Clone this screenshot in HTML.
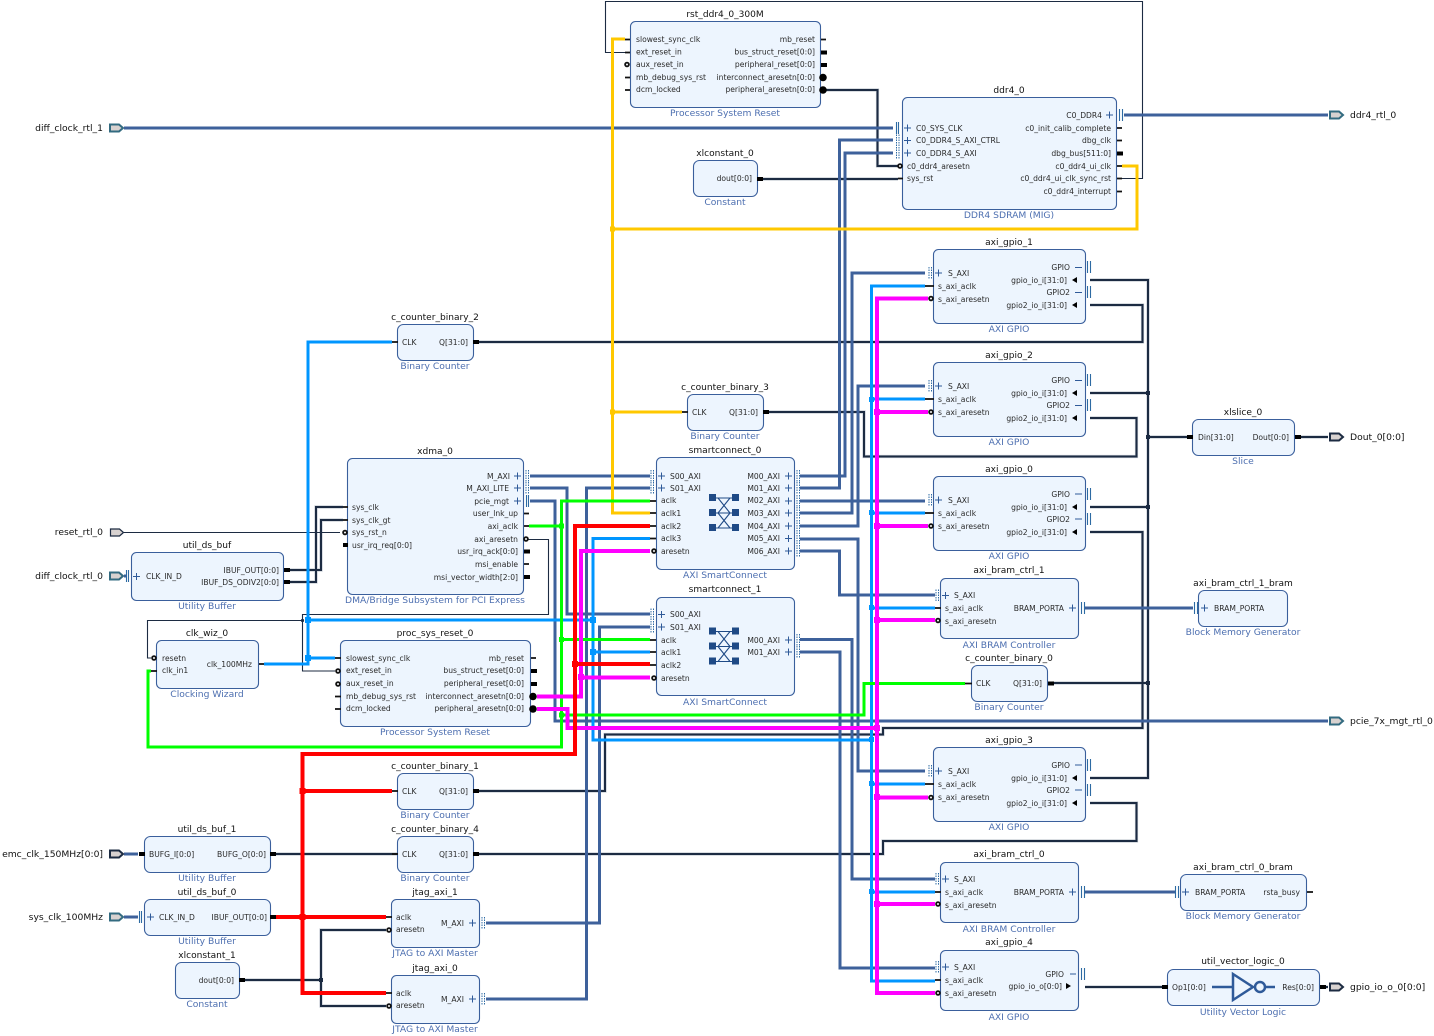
<!DOCTYPE html>
<html><head><meta charset="utf-8"><style>
html,body{margin:0;padding:0;background:#fff}
svg{display:block}
text{font-family:"DejaVu Sans","Liberation Sans",sans-serif;font-size:7.6px;fill:#2a2a2a}
.t{font-size:9.05px;fill:#111;text-anchor:middle}
.s{font-size:9.2px;fill:#4d6fb0;text-anchor:middle}
.e{text-anchor:end}
.x{font-size:9.2px;fill:#111}
.xe{font-size:9.2px;fill:#111;text-anchor:end}
.b{fill:#edf5fe;stroke:#3a5f9c;stroke-width:1.1}
path{fill:none}
.w{stroke:#1c2b42;stroke-width:2}
.h{stroke:#c3c9d1;stroke-width:3.2}
.th{stroke:#1c2b42;stroke-width:1.1}
.bl{stroke:#3e619b;stroke-width:3}
.ye{stroke:#ffc800;stroke-width:3}
.gr{stroke:#00ff00;stroke-width:3}
.re{stroke:#ff0000;stroke-width:4}
.ma{stroke:#ff00ff;stroke-width:4}
.cy{stroke:#0096ff;stroke-width:3}
.st{stroke:#111;stroke-width:1.8}
.bs{stroke:#000;stroke-width:4}
.pl{stroke:#2f5a99;stroke-width:1}
.db{stroke:#2d6aa3;stroke-width:1.1}
.dt{stroke:#2d6aa3;stroke-width:1;stroke-dasharray:1.5 1}
.inv{fill:#fff;stroke:#111;stroke-width:1.8}
.ext{fill:#d8d2d0;stroke:#1c2b42;stroke-width:1.2}
.extb{fill:#d8d2d0;stroke:#336b80;stroke-width:2}
.extd{fill:#d8d2d0;stroke:#1c2b42;stroke-width:2}
.j1{fill:#1c2b42}.j2{fill:#0096ff}.j3{fill:#ff00ff}.j4{fill:#ff0000}.j5{fill:#00ff00}.j6{fill:#ffc800}
.ic{fill:#1f4a86}
.il{stroke:#1f4a86;stroke-width:1.1}
.ig{fill:none;stroke:#2f5a99;stroke-width:2.5}
</style></head><body>
<svg width="1434" height="1036" viewBox="0 0 1434 1036" xmlns="http://www.w3.org/2000/svg">

<!-- dark wire halo -->
<path class="h" d="M826 90H877.5V166H898M763 179H898M1090 280H1148V778H1090M1090 393H1148M1090 507H1148M1052 683H1148M1148 437H1187M1300 437H1328M478 342H1142.500V305H1090M768 412H864V456.500H1136.500V418H1090M1090 532H1142.500V728H883V734.500H605V791H478M1090 803H1136.500V841H883V854H275M287 570H321V520H343M287 582H316V507H343M245 980H321M386 930H321V1006H386M1085 987H1162M1325 987H1328"/>
<!-- dark wires -->
<path class="w" d="M826 90H877.5V166H898M763 179H898M1090 280H1148V778H1090M1090 393H1148M1090 507H1148M1052 683H1148M1148 437H1187M1300 437H1328M478 342H1142.500V305H1090M768 412H864V456.500H1136.500V418H1090M1090 532H1142.500V728H883V734.500H605V791H478M1090 803H1136.500V841H883V854H275M287 570H321V520H343M287 582H316V507H343M245 980H321M386 930H321V1006H386M1085 987H1162M1325 987H1328"/>
<!-- thin wires -->
<path class="th" d="M1122 178.500H1142.500V1.500H605.500V52.500H625M124 532.500H340M528 539.500H548.500V614.500H302.500V671H335M302.500 620.500H147.500V658H151"/>
<!-- blue buses -->
<path class="bl" d="M124 128H893M1124 115H1328M530 476H650M530 488H567V614H650M530 501H555V721H1328M486 999H586.500V488H650M486 923H599.500V627H650M800 476H845V153H893M800 488H839.500V140H893M800 501H925M800 513H852V273H925M800 526H858V386H925M800 539H858V771H925M800 551H839.500V595H935M800 639.500H852V879H935M800 652H840V968H935M1084 608H1193M1084 892H1175M124 576H126M124 854H138M124 917H138"/>
<!-- yellow -->
<path class="ye" d="M625 39H612.500V513H650M1122 166H1137V229H612.500M682 412H612.500"/>
<!-- bright blue -->
<path class="cy" d="M264 664H308V342H392M308 658H335M308 620H593M650 538.500H593V740H871.500M593 652H650M925 286H871.500V981H935M871.500 399H925M871.500 513H925M871.500 608H935M871.500 784H925M871.500 892H935"/>
<!-- green -->
<path class="gr" d="M529 526H561.500M650 501H561.500V747H148V671H151M561.500 639.500H650M561.500 715H864V683.500H965"/>
<!-- magenta -->
<path class="ma" d="M537 696.500H581V551H650M581 677.500H650M537 709H567.500V728H877M928 298.500H877V993H935M877 412H928M877 526H928M877 620H935M877 797.500H928M877 904H935"/>
<!-- red -->
<path class="re" d="M650 526H575V754H302.500V993H386M575 664H650M302.500 791H392M275 917H386"/>

<!-- junctions -->
<g class="j1"><rect x="1146" y="391" width="4" height="4"/><rect x="1146" y="435" width="4" height="4"/><rect x="1146" y="505" width="4" height="4"/><rect x="1146" y="681" width="4" height="4"/><rect x="319" y="978" width="4" height="4"/><circle cx="302.500" cy="620.500" r="1.600"/></g>
<g class="j2"><rect x="305" y="617" width="6" height="6"/><rect x="305" y="655" width="6" height="6"/><rect x="590" y="617" width="6" height="6"/><rect x="590" y="649" width="6" height="6"/><rect x="869" y="397" width="5" height="5"/><rect x="869" y="510" width="5" height="5"/><rect x="869" y="605" width="5" height="5"/><rect x="869" y="737" width="5" height="5"/><rect x="869" y="781" width="5" height="5"/><rect x="869" y="889" width="5" height="5"/></g>
<g class="j3"><rect x="874" y="409" width="6" height="6"/><rect x="874" y="523" width="6" height="6"/><rect x="874" y="617" width="6" height="6"/><rect x="874" y="725" width="6" height="6"/><rect x="874" y="794" width="6" height="6"/><rect x="874" y="901" width="6" height="6"/><rect x="578" y="674" width="6" height="6"/></g>
<g class="j4"><rect x="299.500" y="788" width="6" height="6"/><rect x="299.500" y="914" width="6" height="6"/><rect x="572" y="661" width="6" height="6"/></g>
<g class="j5"><rect x="559" y="523.500" width="5" height="5"/><rect x="559" y="637" width="5" height="5"/><rect x="559" y="712.500" width="5" height="5"/></g>
<g class="j6"><rect x="610" y="226.500" width="5" height="5"/><rect x="610" y="409.500" width="5" height="5"/></g>

<!-- blocks -->
<rect class="b" x="630.500" y="21.500" width="190" height="86" rx="5"/>
<rect class="b" x="902.500" y="97.500" width="214" height="112" rx="5"/>
<rect class="b" x="693.500" y="160.500" width="64" height="36" rx="6"/>
<rect class="b" x="933.500" y="249.500" width="152" height="74" rx="5"/>
<rect class="b" x="933.500" y="362.500" width="152" height="74" rx="5"/>
<rect class="b" x="933.500" y="476.500" width="152" height="74" rx="5"/>
<rect class="b" x="940.500" y="578.500" width="138" height="60" rx="5"/>
<rect class="b" x="397.500" y="324.500" width="76" height="36" rx="6"/>
<rect class="b" x="687.500" y="394.500" width="76" height="36" rx="6"/>
<rect class="b" x="1192.500" y="419.500" width="102" height="36" rx="6"/>
<rect class="b" x="347.500" y="458.500" width="176" height="136" rx="5"/>
<rect class="b" x="656.500" y="457.500" width="138" height="112" rx="5"/>
<rect class="b" x="656.500" y="597.500" width="138" height="98" rx="5"/>
<rect class="b" x="340.500" y="640.500" width="190" height="86" rx="5"/>
<rect class="b" x="131.500" y="552.500" width="152" height="48" rx="5"/>
<rect class="b" x="156.500" y="640.500" width="102" height="48" rx="5"/>
<rect class="b" x="1198.500" y="590.500" width="89" height="36" rx="6"/>
<rect class="b" x="971.500" y="665.500" width="76" height="36" rx="6"/>
<rect class="b" x="933.500" y="747.500" width="152" height="74" rx="5"/>
<rect class="b" x="940.500" y="862.500" width="138" height="60" rx="5"/>
<rect class="b" x="940.500" y="950.500" width="138" height="60" rx="5"/>
<rect class="b" x="1180.500" y="874.500" width="126" height="36" rx="6"/>
<rect class="b" x="1167.500" y="969.500" width="152" height="36" rx="6"/>
<rect class="b" x="397.500" y="773.500" width="76" height="36" rx="6"/>
<rect class="b" x="397.500" y="836.500" width="76" height="36" rx="6"/>
<rect class="b" x="391.500" y="899.500" width="88" height="48" rx="5"/>
<rect class="b" x="391.500" y="975.500" width="88" height="48" rx="5"/>
<rect class="b" x="144.500" y="836.500" width="126" height="36" rx="6"/>
<rect class="b" x="144.500" y="899.500" width="126" height="36" rx="6"/>
<rect class="b" x="175.500" y="962.500" width="64" height="36" rx="6"/>

<!-- stubs -->
<path class="st" d="M625 39.500h5M625 52.500h5M625 77.500h5M625 90h5M821 39.500h5M1117 128h5M1117 140.500h5M1117 166h5M1117 178.500h5M1117 191.500h5M898 178.500h5M343 507h5M343 520h5M524 513.500h5M524 526h5M524 564h5M650 501h6M650 513h6M650 526h6M650 538.500h6M650 640h6M650 652h6M650 665h6M335 658h6M335 696.500h6M335 709h6M531 658h5M151 671h6M259 664h5M392 342h6M682 412h6M392 791h6M392 854h6M965 683.500h7M925 286h9M925 399h9M925 513h9M925 784h9M935 608h6M935 892h6M935 980h6M386 917h6M386 993h6M1307 892h6"/>
<path class="bs" d="M821 52.500h6M821 65h6M1117 153.500h6M343 545h5M524 551.500h6M524 577h6M531 671h6M531 684h6M284 570h6M284 582h6M473 342h6M763 412h6M473 791h6M473 854h6M1048 683.500h6M1187 437h6M1295 437h6M270 854h6M139 854h6M270 917h6M239 980h6M757 179h6M1162 987h6M1320 987h6"/>
<!-- inverted / large circles -->
<g class="inv"><circle cx="627" cy="64.500" r="1.900"/><circle cx="900" cy="166" r="1.900"/><circle cx="345" cy="532.500" r="1.900"/><circle cx="526" cy="539" r="1.900"/><circle cx="654" cy="551" r="1.900"/><circle cx="654" cy="678" r="1.900"/><circle cx="338" cy="671" r="1.900"/><circle cx="338" cy="684" r="1.900"/><circle cx="154" cy="658" r="1.900"/><circle cx="931" cy="298.500" r="1.900"/><circle cx="931" cy="412" r="1.900"/><circle cx="931" cy="526" r="1.900"/><circle cx="938" cy="620.500" r="1.900"/><circle cx="931" cy="797.500" r="1.900"/><circle cx="938" cy="904" r="1.900"/><circle cx="938" cy="993" r="1.900"/><circle cx="389" cy="930" r="1.900"/><circle cx="389" cy="1006" r="1.900"/></g>
<g fill="#000"><circle cx="823" cy="77.500" r="3.800"/><circle cx="823" cy="90" r="3.800"/><circle cx="533" cy="696.500" r="3.800"/><circle cx="533" cy="709" r="3.800"/></g>

<!-- plus signs -->
<path class="pl" d="M904 128h7M907.500 124.500v7M904 140.500h7M907.500 137v7M904 153h7M907.500 149.500v7M1106 115h7M1109.500 111.500v7M658 476h7M661.500 472.500v7M658 488h7M661.500 484.500v7M658 614.500h7M661.500 611v7M658 627h7M661.500 623.500v7M785 476h7M788.500 472.500v7M785 488h7M788.500 484.500v7M785 501h7M788.500 497.500v7M785 513h7M788.500 509.500v7M785 526h7M788.500 522.500v7M785 538.500h7M788.500 535v7M785 551h7M788.500 547.500v7M785 640h7M788.500 636.500v7M785 652h7M788.500 648.500v7M514 476h7M517.500 472.500v7M514 488h7M517.500 484.500v7M514 501h7M517.500 497.500v7M133 576.500h7M136.500 573v7M935 273h7M938.500 269.500v7M935 386h7M938.500 382.500v7M935 500h7M938.500 496.500v7M942 595.500h7M945.500 592v7M1069 608h7M1072.500 604.500v7M935 771h7M938.500 767.500v7M942 879h7M945.500 875.500v7M1069 892h7M1072.500 888.500v7M942 967h7M945.500 963.500v7M1201 608h7M1204.500 604.500v7M1182 892h7M1185.500 888.500v7M147 917h7M150.500 913.500v7M469 923h7M472.500 919.500v7M469 999h7M472.500 995.500v7"/>
<!-- dashes near GPIO -->
<path class="pl" d="M1075 267.500h7M1075 292.500h7M1075 380.500h7M1075 405.500h7M1075 494h7M1075 519h7M1075 765h7M1075 790h7M1070 974h6"/>
<!-- double bars -->
<path class="db" d="M896.500 122v12M898.500 122v12M1119.500 109v12M1122.500 109v12M526.500 495v12M528.500 495v12M126.500 570v12M128.500 570v12M1087.500 261v12M1090.500 261v12M1087.500 286v12M1090.500 286v12M1087.500 374v12M1090.500 374v12M1087.500 399v12M1090.500 399v12M1087.500 488v12M1090.500 488v12M1087.500 513v12M1090.500 513v12M1081.500 602v12M1084.500 602v12M1087.500 759v12M1090.500 759v12M1087.500 784v12M1090.500 784v12M1081.500 886v12M1084.500 886v12M1081.500 968v12M1084.500 968v12M1194.500 602v12M1197.500 602v12M1175.500 886v12M1178.500 886v12M139.500 911v12M141.500 911v12"/>
<!-- dotted interface -->
<path class="dt" d="M896.500 134.500v12M899 134.500v12M896.500 147v12M899 147v12M651 470v12M653.500 470v12M651 482v12M653.500 482v12M651 608.500v12M653.500 608.500v12M651 621v12M653.500 621v12M797 470v12M799.500 470v12M797 482v12M799.500 482v12M797 495v12M799.500 495v12M797 507v12M799.500 507v12M797 520v12M799.500 520v12M797 532.500v12M799.500 532.500v12M797 545v12M799.500 545v12M797 634v12M799.500 634v12M797 646v12M799.500 646v12M526 470v12M528.500 470v12M526 482v12M528.500 482v12M929 267v12M931.500 267v12M929 380v12M931.500 380v12M929 494v12M931.500 494v12M936 589.500v12M938.500 589.500v12M929 765v12M931.500 765v12M936 873v12M938.500 873v12M936 961v12M938.500 961v12M482 917v12M484.500 917v12M482 993v12M484.500 993v12"/>
<!-- arrows -->
<path style="fill:#000" d="M1077 277l-5 3 5 3zM1077 302l-5 3 5 3zM1077 390l-5 3 5 3zM1077 415l-5 3 5 3zM1077 504l-5 3 5 3zM1077 529l-5 3 5 3zM1077 775l-5 3 5 3zM1077 800l-5 3 5 3zM1066 983l5 3-5 3z"/>

<!-- external ports -->
<path class="extb" d="M110 124.500h9l4 3.500-4 3.500h-9z"/>
<path class="extb" d="M1330 111.500h9l4 3.500-4 3.500h-9z"/>
<path class="ext" d="M110.500 529h9l4 3.500-4 3.500h-9z"/>
<path class="extb" d="M110 572.500h9l4 3.500-4 3.500h-9z"/>
<path class="extd" d="M1330 433.500h9l4 3.500-4 3.500h-9z"/>
<path class="extb" d="M1330 717.500h9l4 3.500-4 3.500h-9z"/>
<path class="extd" d="M110 850.500h9l4 3.500-4 3.500h-9z"/>
<path class="extb" d="M110 913.500h9l4 3.500-4 3.500h-9z"/>
<path class="extd" d="M1330 983.500h9l4 3.500-4 3.500h-9z"/>
<text class="xe" x="103" y="131">diff_clock_rtl_1</text>
<text class="xe" x="103" y="535">reset_rtl_0</text>
<text class="xe" x="103" y="579">diff_clock_rtl_0</text>
<text class="xe" x="103" y="857">emc_clk_150MHz[0:0]</text>
<text class="xe" x="103" y="920">sys_clk_100MHz</text>
<text class="x" x="1350" y="118">ddr4_rtl_0</text>
<text class="x" x="1350" y="440">Dout_0[0:0]</text>
<text class="x" x="1350" y="724">pcie_7x_mgt_rtl_0</text>
<text class="x" x="1350" y="990">gpio_io_o_0[0:0]</text>

<!-- titles -->
<text class="t" x="725" y="17">rst_ddr4_0_300M</text><text class="s" x="725" y="116">Processor System Reset</text>
<text class="t" x="1009" y="93">ddr4_0</text><text class="s" x="1009" y="218">DDR4 SDRAM (MIG)</text>
<text class="t" x="725" y="156">xlconstant_0</text><text class="s" x="725" y="205">Constant</text>
<text class="t" x="1009" y="245">axi_gpio_1</text><text class="s" x="1009" y="332">AXI GPIO</text>
<text class="t" x="1009" y="358">axi_gpio_2</text><text class="s" x="1009" y="445">AXI GPIO</text>
<text class="t" x="1009" y="472">axi_gpio_0</text><text class="s" x="1009" y="559">AXI GPIO</text>
<text class="t" x="1009" y="573">axi_bram_ctrl_1</text><text class="s" x="1009" y="648">AXI BRAM Controller</text>
<text class="t" x="435" y="320">c_counter_binary_2</text><text class="s" x="435" y="369">Binary Counter</text>
<text class="t" x="725" y="390">c_counter_binary_3</text><text class="s" x="725" y="439">Binary Counter</text>
<text class="t" x="1243" y="415">xlslice_0</text><text class="s" x="1243" y="464">Slice</text>
<text class="t" x="435" y="454">xdma_0</text><text class="s" x="435" y="603">DMA/Bridge Subsystem for PCI Express</text>
<text class="t" x="725" y="453">smartconnect_0</text><text class="s" x="725" y="578">AXI SmartConnect</text>
<text class="t" x="725" y="592">smartconnect_1</text><text class="s" x="725" y="705">AXI SmartConnect</text>
<text class="t" x="435" y="636">proc_sys_reset_0</text><text class="s" x="435" y="735">Processor System Reset</text>
<text class="t" x="207" y="548">util_ds_buf</text><text class="s" x="207" y="609">Utility Buffer</text>
<text class="t" x="207" y="636">clk_wiz_0</text><text class="s" x="207" y="697">Clocking Wizard</text>
<text class="t" x="1243" y="586">axi_bram_ctrl_1_bram</text><text class="s" x="1243" y="635">Block Memory Generator</text>
<text class="t" x="1009" y="661">c_counter_binary_0</text><text class="s" x="1009" y="710">Binary Counter</text>
<text class="t" x="1009" y="743">axi_gpio_3</text><text class="s" x="1009" y="830">AXI GPIO</text>
<text class="t" x="1009" y="857">axi_bram_ctrl_0</text><text class="s" x="1009" y="932">AXI BRAM Controller</text>
<text class="t" x="1009" y="945">axi_gpio_4</text><text class="s" x="1009" y="1020">AXI GPIO</text>
<text class="t" x="1243" y="870">axi_bram_ctrl_0_bram</text><text class="s" x="1243" y="919">Block Memory Generator</text>
<text class="t" x="1243" y="964">util_vector_logic_0</text><text class="s" x="1243" y="1015">Utility Vector Logic</text>
<text class="t" x="435" y="769">c_counter_binary_1</text><text class="s" x="435" y="818">Binary Counter</text>
<text class="t" x="435" y="832">c_counter_binary_4</text><text class="s" x="435" y="881">Binary Counter</text>
<text class="t" x="435" y="895">jtag_axi_1</text><text class="s" x="435" y="956">JTAG to AXI Master</text>
<text class="t" x="435" y="971">jtag_axi_0</text><text class="s" x="435" y="1032">JTAG to AXI Master</text>
<text class="t" x="207" y="832">util_ds_buf_1</text><text class="s" x="207" y="881">Utility Buffer</text>
<text class="t" x="207" y="895">util_ds_buf_0</text><text class="s" x="207" y="944">Utility Buffer</text>
<text class="t" x="207" y="958">xlconstant_1</text><text class="s" x="207" y="1007">Constant</text>

<!-- port labels -->
<g>
<text x="636" y="42">slowest_sync_clk</text><text x="636" y="54.500">ext_reset_in</text><text x="636" y="67">aux_reset_in</text><text x="636" y="80">mb_debug_sys_rst</text><text x="636" y="92">dcm_locked</text>
<text class="e" x="815" y="42">mb_reset</text><text class="e" x="815" y="54.500">bus_struct_reset[0:0]</text><text class="e" x="815" y="67">peripheral_reset[0:0]</text><text class="e" x="815" y="80">interconnect_aresetn[0:0]</text><text class="e" x="815" y="92">peripheral_aresetn[0:0]</text>

<text x="916" y="131">C0_SYS_CLK</text><text x="916" y="143">C0_DDR4_S_AXI_CTRL</text><text x="916" y="156">C0_DDR4_S_AXI</text><text x="907" y="169">c0_ddr4_aresetn</text><text x="907" y="181">sys_rst</text>
<text class="e" x="1102" y="118">C0_DDR4</text><text class="e" x="1111" y="131">c0_init_calib_complete</text><text class="e" x="1111" y="143">dbg_clk</text><text class="e" x="1111" y="156">dbg_bus[511:0]</text><text class="e" x="1111" y="169">c0_ddr4_ui_clk</text><text class="e" x="1111" y="181">c0_ddr4_ui_clk_sync_rst</text><text class="e" x="1111" y="194">c0_ddr4_interrupt</text>

<text class="e" x="752" y="181">dout[0:0]</text>
<text class="e" x="234" y="983">dout[0:0]</text>

<text x="402" y="345">CLK</text><text class="e" x="468" y="345">Q[31:0]</text>
<text x="692" y="415">CLK</text><text class="e" x="758" y="415">Q[31:0]</text>
<text x="976" y="686">CLK</text><text class="e" x="1042" y="686">Q[31:0]</text>
<text x="402" y="794">CLK</text><text class="e" x="468" y="794">Q[31:0]</text>
<text x="402" y="857">CLK</text><text class="e" x="468" y="857">Q[31:0]</text>

<text x="948" y="276">S_AXI</text><text x="938" y="289">s_axi_aclk</text><text x="938" y="302">s_axi_aresetn</text>
<text class="e" x="1070" y="270">GPIO</text><text class="e" x="1067" y="283">gpio_io_i[31:0]</text><text class="e" x="1070" y="295">GPIO2</text><text class="e" x="1067" y="308">gpio2_io_i[31:0]</text>
<text x="948" y="389">S_AXI</text><text x="938" y="402">s_axi_aclk</text><text x="938" y="415">s_axi_aresetn</text>
<text class="e" x="1070" y="383">GPIO</text><text class="e" x="1067" y="396">gpio_io_i[31:0]</text><text class="e" x="1070" y="408">GPIO2</text><text class="e" x="1067" y="421">gpio2_io_i[31:0]</text>
<text x="948" y="503">S_AXI</text><text x="938" y="516">s_axi_aclk</text><text x="938" y="529">s_axi_aresetn</text>
<text class="e" x="1070" y="497">GPIO</text><text class="e" x="1067" y="510">gpio_io_i[31:0]</text><text class="e" x="1070" y="522">GPIO2</text><text class="e" x="1067" y="535">gpio2_io_i[31:0]</text>
<text x="948" y="774">S_AXI</text><text x="938" y="787">s_axi_aclk</text><text x="938" y="800">s_axi_aresetn</text>
<text class="e" x="1070" y="768">GPIO</text><text class="e" x="1067" y="781">gpio_io_i[31:0]</text><text class="e" x="1070" y="793">GPIO2</text><text class="e" x="1067" y="806">gpio2_io_i[31:0]</text>

<text x="954" y="598">S_AXI</text><text x="945" y="611">s_axi_aclk</text><text x="945" y="624">s_axi_aresetn</text><text class="e" x="1064" y="611">BRAM_PORTA</text>
<text x="954" y="882">S_AXI</text><text x="945" y="895">s_axi_aclk</text><text x="945" y="908">s_axi_aresetn</text><text class="e" x="1064" y="895">BRAM_PORTA</text>
<text x="954" y="970">S_AXI</text><text x="945" y="983">s_axi_aclk</text><text x="945" y="996">s_axi_aresetn</text><text class="e" x="1064" y="977">GPIO</text><text class="e" x="1062" y="989">gpio_io_o[0:0]</text>

<text x="1214" y="611">BRAM_PORTA</text>
<text x="1195" y="895">BRAM_PORTA</text><text class="e" x="1300" y="895">rsta_busy</text>
<text x="1198" y="440">Din[31:0]</text><text class="e" x="1289" y="440">Dout[0:0]</text>
<text x="1172" y="990">Op1[0:0]</text><text class="e" x="1314" y="990">Res[0:0]</text>

<text class="e" x="510" y="479">M_AXI</text><text class="e" x="509" y="491">M_AXI_LITE</text><text class="e" x="509" y="504">pcie_mgt</text><text class="e" x="518" y="516">user_lnk_up</text><text class="e" x="518" y="529">axi_aclk</text><text class="e" x="518" y="542">axi_aresetn</text><text class="e" x="518" y="554">usr_irq_ack[0:0]</text><text class="e" x="518" y="567">msi_enable</text><text class="e" x="518" y="580">msi_vector_width[2:0]</text>
<text x="352" y="510">sys_clk</text><text x="352" y="523">sys_clk_gt</text><text x="352" y="535">sys_rst_n</text><text x="352" y="548">usr_irq_req[0:0]</text>

<text x="670" y="479">S00_AXI</text><text x="670" y="491">S01_AXI</text><text x="661" y="503">aclk</text><text x="661" y="516">aclk1</text><text x="661" y="529">aclk2</text><text x="661" y="541">aclk3</text><text x="661" y="554">aresetn</text>
<text class="e" x="780" y="479">M00_AXI</text><text class="e" x="780" y="491">M01_AXI</text><text class="e" x="780" y="503">M02_AXI</text><text class="e" x="780" y="516">M03_AXI</text><text class="e" x="780" y="529">M04_AXI</text><text class="e" x="780" y="541">M05_AXI</text><text class="e" x="780" y="554">M06_AXI</text>

<text x="670" y="617">S00_AXI</text><text x="670" y="630">S01_AXI</text><text x="661" y="643">aclk</text><text x="661" y="655">aclk1</text><text x="661" y="668">aclk2</text><text x="661" y="681">aresetn</text>
<text class="e" x="780" y="643">M00_AXI</text><text class="e" x="780" y="655">M01_AXI</text>

<text x="346" y="661">slowest_sync_clk</text><text x="346" y="673">ext_reset_in</text><text x="346" y="686">aux_reset_in</text><text x="346" y="699">mb_debug_sys_rst</text><text x="346" y="711">dcm_locked</text>
<text class="e" x="524" y="661">mb_reset</text><text class="e" x="524" y="673">bus_struct_reset[0:0]</text><text class="e" x="524" y="686">peripheral_reset[0:0]</text><text class="e" x="524" y="699">interconnect_aresetn[0:0]</text><text class="e" x="524" y="711">peripheral_aresetn[0:0]</text>

<text x="146" y="579">CLK_IN_D</text><text class="e" x="279" y="573">IBUF_OUT[0:0]</text><text class="e" x="279" y="585">IBUF_DS_ODIV2[0:0]</text>
<text x="162" y="661">resetn</text><text x="162" y="673">clk_in1</text><text class="e" x="252" y="667">clk_100MHz</text>
<text x="149" y="857">BUFG_I[0:0]</text><text class="e" x="266" y="857">BUFG_O[0:0]</text>
<text x="159" y="920">CLK_IN_D</text><text class="e" x="267" y="920">IBUF_OUT[0:0]</text>
<text x="396" y="920">aclk</text><text x="396" y="932">aresetn</text><text class="e" x="464" y="926">M_AXI</text>
<text x="396" y="996">aclk</text><text x="396" y="1008">aresetn</text><text class="e" x="464" y="1002">M_AXI</text>
</g>

<!-- smartconnect icons -->
<rect class="ic" x="709" y="494" width="7" height="7"/><rect class="ic" x="732" y="494" width="7" height="7"/><rect class="ic" x="709" y="509" width="7" height="7"/><rect class="ic" x="732" y="509" width="7" height="7"/><rect class="ic" x="709" y="524" width="7" height="7"/><rect class="ic" x="732" y="524" width="7" height="7"/>
<path class="il" d="M716 498h16M716 513h16M716 528h16M718 498l12 15M730 498l-12 15M718 513l12 15M730 513l-12 15"/>
<rect class="ic" x="709" y="627.500" width="7" height="7"/><rect class="ic" x="732" y="627.500" width="7" height="7"/><rect class="ic" x="709" y="642.500" width="7" height="7"/><rect class="ic" x="732" y="642.500" width="7" height="7"/><rect class="ic" x="709" y="657.500" width="7" height="7"/><rect class="ic" x="732" y="657.500" width="7" height="7"/>
<path class="il" d="M716 631.500h16M716 646.500h16M716 661.500h16M718 631.500l12 15M730 631.500l-12 15M718 646.500l12 15M730 646.500l-12 15"/>

<!-- inverter -->
<path class="ig" d="M1212 987h20M1233 974v26l20-13zM1265 987h10"/>
<circle class="ig" cx="1260" cy="987" r="5"/>
</svg>
</body></html>
